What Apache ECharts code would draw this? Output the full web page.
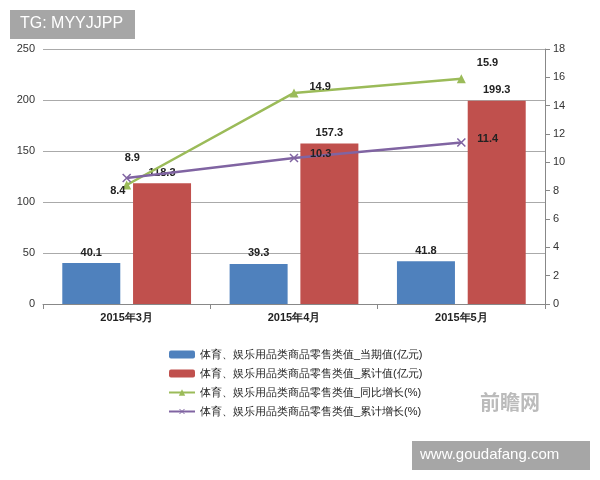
<!DOCTYPE html><html><head><meta charset="utf-8"><script src="https://cdn.jsdelivr.net/npm/echarts@6/dist/echarts.min.js"></script></head><body style="margin:0"><div id="c" style="width:600px;height:480px"></div><script>
const categories=['2015年3月','2015年4月','2015年5月'];
const current=[40.1,39.3,41.8];
const cumulative=[118.3,157.3,199.3];
const yoy=[8.4,14.9,15.9];
const cumGrowth=[8.9,10.3,11.4];
const names=['体育、娱乐用品类商品零售类值_当期值(亿元)','体育、娱乐用品类商品零售类值_累计值(亿元)','体育、娱乐用品类商品零售类值_同比增长(%)','体育、娱乐用品类商品零售类值_累计增长(%)'];
const yoyPos=[[-26,6],[6,-6],[6,-16]];
const cgPos=[[-12,-20],[6,-4],[6,-4]];
const lab={color:'#222',fontSize:11,fontWeight:'bold'};
const ch=echarts.init(document.getElementById('c'));
ch.setOption({
 backgroundColor:'#fff',
 grid:{left:43,right:55,top:49,bottom:176},
 legend:{orient:'vertical',left:163,top:344,itemGap:8,itemWidth:26,itemHeight:8,textStyle:{fontSize:11,color:'#222'},data:names},
 xAxis:{type:'category',data:categories,axisTick:{show:true,length:5},axisLine:{lineStyle:{color:'#888'}},axisLabel:{color:'#222',fontSize:11,fontWeight:'bold'}},
 yAxis:[{type:'value',min:0,max:250,interval:50,axisLabel:{color:'#333',fontSize:11},splitLine:{lineStyle:{color:'#aaa'}},axisLine:{show:false}},
  {type:'value',min:0,max:18,interval:2,axisLabel:{color:'#333',fontSize:11},splitLine:{show:false},axisLine:{show:true,lineStyle:{color:'#888'}},axisTick:{show:true}}],
 series:[
  {name:names[0],type:'bar',data:current,barWidth:58,barGap:'22%',itemStyle:{color:'#4f81bd'},label:{show:true,position:'top',...lab}},
  {name:names[1],type:'bar',data:cumulative,barWidth:58,itemStyle:{color:'#c0504d'},label:{show:true,position:'top',...lab}},
  {name:names[2],type:'line',yAxisIndex:1,data:yoy.map((v,i)=>({value:v,label:{offset:yoyPos[i]}})),symbol:'triangle',symbolSize:9,lineStyle:{color:'#9bbb59',width:2.5},itemStyle:{color:'#9bbb59'},label:{show:true,position:'right',...lab}},
  {name:names[3],type:'line',yAxisIndex:1,data:cumGrowth.map((v,i)=>({value:v,label:{offset:cgPos[i]}})),symbol:'image://data:image/svg+xml;utf8,<svg xmlns="http://www.w3.org/2000/svg" width="10" height="10"><path d="M1 1L9 9M9 1L1 9" stroke="%238064a2" stroke-width="1.5"/></svg>',symbolSize:10,lineStyle:{color:'#8064a2',width:2.5},itemStyle:{color:'#8064a2'},label:{show:true,position:'right',...lab}}
 ],
 graphic:[
  {type:'rect',left:10,top:10,shape:{width:125,height:29},style:{fill:'#a6a6a6'}},
  {type:'text',left:20,top:16,style:{text:'TG: MYYJJPP',fill:'#fff',font:'16px Liberation Sans'}},
  {type:'rect',left:412,top:441,shape:{width:178,height:29},style:{fill:'#a6a6a6'}},
  {type:'text',left:420,top:447,style:{text:'www.goudafang.com',fill:'#fff',font:'15px Liberation Sans'}},
  {type:'text',left:480,top:392,style:{text:'前瞻网',fill:'#bbb',font:'bold 20px "Noto Sans CJK SC"'}}
 ]
});
</script></body></html>
